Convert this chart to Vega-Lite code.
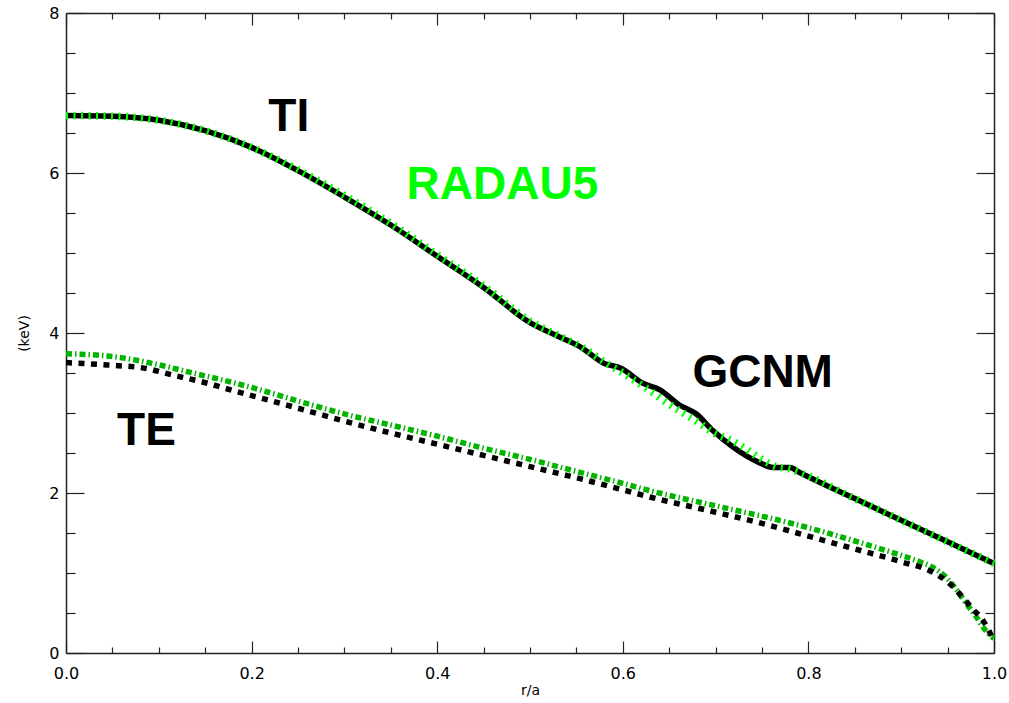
{
  "$schema": "https://vega.github.io/schema/vega-lite/v6.json",
  "width": 928,
  "height": 640,
  "autosize": {"type": "none"},
  "padding": {"left": 66, "top": 13, "right": 15, "bottom": 50},
  "background": "white",
  "config": {
    "view": {"stroke": null},
    "font": "Liberation Sans",
    "axis": {"grid": false, "domainColor": "#222", "domainWidth": 1.5, "tickColor": "#222", "tickWidth": 1.2, "labelColor": "black", "labelFont": "DejaVu Sans", "labelFontSize": 16, "titleFont": "DejaVu Sans", "titleFontWeight": "normal", "titleFontSize": 14, "titleColor": "black"}
  },
  "datasets": {
    "profiles": [
      {"series": "TI GCNM", "r": 0.0, "T": 6.72},
      {"series": "TI GCNM", "r": 0.05, "T": 6.71},
      {"series": "TI GCNM", "r": 0.1, "T": 6.66},
      {"series": "TI GCNM", "r": 0.15, "T": 6.53},
      {"series": "TI GCNM", "r": 0.2, "T": 6.32},
      {"series": "TI GCNM", "r": 0.25, "T": 6.03},
      {"series": "TI GCNM", "r": 0.3, "T": 5.70},
      {"series": "TI GCNM", "r": 0.35, "T": 5.35},
      {"series": "TI GCNM", "r": 0.4, "T": 4.96},
      {"series": "TI GCNM", "r": 0.45, "T": 4.57},
      {"series": "TI GCNM", "r": 0.5, "T": 4.13},
      {"series": "TI GCNM", "r": 0.53, "T": 3.96},
      {"series": "TI GCNM", "r": 0.555, "T": 3.82},
      {"series": "TI GCNM", "r": 0.58, "T": 3.62},
      {"series": "TI GCNM", "r": 0.598, "T": 3.56},
      {"series": "TI GCNM", "r": 0.622, "T": 3.37},
      {"series": "TI GCNM", "r": 0.64, "T": 3.29},
      {"series": "TI GCNM", "r": 0.661, "T": 3.10},
      {"series": "TI GCNM", "r": 0.679, "T": 2.99},
      {"series": "TI GCNM", "r": 0.697, "T": 2.78},
      {"series": "TI GCNM", "r": 0.718, "T": 2.58},
      {"series": "TI GCNM", "r": 0.747, "T": 2.38},
      {"series": "TI GCNM", "r": 0.762, "T": 2.32},
      {"series": "TI GCNM", "r": 0.78, "T": 2.32},
      {"series": "TI GCNM", "r": 0.79, "T": 2.26},
      {"series": "TI GCNM", "r": 0.85, "T": 1.93},
      {"series": "TI GCNM", "r": 0.9, "T": 1.66},
      {"series": "TI GCNM", "r": 0.95, "T": 1.39},
      {"series": "TI GCNM", "r": 1.0, "T": 1.12},

      {"series": "TI RADAU5", "r": 0.0, "T": 6.72},
      {"series": "TI RADAU5", "r": 0.05, "T": 6.71},
      {"series": "TI RADAU5", "r": 0.1, "T": 6.66},
      {"series": "TI RADAU5", "r": 0.15, "T": 6.53},
      {"series": "TI RADAU5", "r": 0.2, "T": 6.32},
      {"series": "TI RADAU5", "r": 0.25, "T": 6.04},
      {"series": "TI RADAU5", "r": 0.3, "T": 5.72},
      {"series": "TI RADAU5", "r": 0.35, "T": 5.37},
      {"series": "TI RADAU5", "r": 0.4, "T": 4.98},
      {"series": "TI RADAU5", "r": 0.45, "T": 4.59},
      {"series": "TI RADAU5", "r": 0.5, "T": 4.15},
      {"series": "TI RADAU5", "r": 0.53, "T": 3.97},
      {"series": "TI RADAU5", "r": 0.555, "T": 3.83},
      {"series": "TI RADAU5", "r": 0.58, "T": 3.64},
      {"series": "TI RADAU5", "r": 0.6, "T": 3.50},
      {"series": "TI RADAU5", "r": 0.629, "T": 3.28},
      {"series": "TI RADAU5", "r": 0.65, "T": 3.11},
      {"series": "TI RADAU5", "r": 0.679, "T": 2.90},
      {"series": "TI RADAU5", "r": 0.697, "T": 2.76},
      {"series": "TI RADAU5", "r": 0.718, "T": 2.65},
      {"series": "TI RADAU5", "r": 0.733, "T": 2.55},
      {"series": "TI RADAU5", "r": 0.747, "T": 2.44},
      {"series": "TI RADAU5", "r": 0.765, "T": 2.33},
      {"series": "TI RADAU5", "r": 0.78, "T": 2.30},
      {"series": "TI RADAU5", "r": 0.79, "T": 2.26},
      {"series": "TI RADAU5", "r": 0.85, "T": 1.93},
      {"series": "TI RADAU5", "r": 0.9, "T": 1.66},
      {"series": "TI RADAU5", "r": 0.95, "T": 1.39},
      {"series": "TI RADAU5", "r": 1.0, "T": 1.12},

      {"series": "TE GCNM", "r": 0.0, "T": 3.63},
      {"series": "TE GCNM", "r": 0.045, "T": 3.60},
      {"series": "TE GCNM", "r": 0.087, "T": 3.555},
      {"series": "TE GCNM", "r": 0.113, "T": 3.48},
      {"series": "TE GCNM", "r": 0.153, "T": 3.37},
      {"series": "TE GCNM", "r": 0.18, "T": 3.28},
      {"series": "TE GCNM", "r": 0.209, "T": 3.19},
      {"series": "TE GCNM", "r": 0.25, "T": 3.06},
      {"series": "TE GCNM", "r": 0.306, "T": 2.88},
      {"series": "TE GCNM", "r": 0.35, "T": 2.75},
      {"series": "TE GCNM", "r": 0.4, "T": 2.61},
      {"series": "TE GCNM", "r": 0.45, "T": 2.47},
      {"series": "TE GCNM", "r": 0.5, "T": 2.33},
      {"series": "TE GCNM", "r": 0.55, "T": 2.19},
      {"series": "TE GCNM", "r": 0.6, "T": 2.04},
      {"series": "TE GCNM", "r": 0.629, "T": 1.95},
      {"series": "TE GCNM", "r": 0.7, "T": 1.76},
      {"series": "TE GCNM", "r": 0.75, "T": 1.62},
      {"series": "TE GCNM", "r": 0.797, "T": 1.47},
      {"series": "TE GCNM", "r": 0.85, "T": 1.30},
      {"series": "TE GCNM", "r": 0.9, "T": 1.14},
      {"series": "TE GCNM", "r": 0.934, "T": 1.01},
      {"series": "TE GCNM", "r": 0.952, "T": 0.87},
      {"series": "TE GCNM", "r": 0.966, "T": 0.70},
      {"series": "TE GCNM", "r": 0.977, "T": 0.55},
      {"series": "TE GCNM", "r": 0.988, "T": 0.41},
      {"series": "TE GCNM", "r": 1.0, "T": 0.15},

      {"series": "TE RADAU5", "r": 0.0, "T": 3.74},
      {"series": "TE RADAU5", "r": 0.047, "T": 3.71},
      {"series": "TE RADAU5", "r": 0.101, "T": 3.60},
      {"series": "TE RADAU5", "r": 0.133, "T": 3.51},
      {"series": "TE RADAU5", "r": 0.18, "T": 3.38},
      {"series": "TE RADAU5", "r": 0.209, "T": 3.29},
      {"series": "TE RADAU5", "r": 0.25, "T": 3.15},
      {"series": "TE RADAU5", "r": 0.306, "T": 2.97},
      {"series": "TE RADAU5", "r": 0.35, "T": 2.85},
      {"series": "TE RADAU5", "r": 0.4, "T": 2.71},
      {"series": "TE RADAU5", "r": 0.45, "T": 2.56},
      {"series": "TE RADAU5", "r": 0.5, "T": 2.42},
      {"series": "TE RADAU5", "r": 0.55, "T": 2.27},
      {"series": "TE RADAU5", "r": 0.6, "T": 2.12},
      {"series": "TE RADAU5", "r": 0.629, "T": 2.03},
      {"series": "TE RADAU5", "r": 0.7, "T": 1.84},
      {"series": "TE RADAU5", "r": 0.75, "T": 1.71},
      {"series": "TE RADAU5", "r": 0.797, "T": 1.575},
      {"series": "TE RADAU5", "r": 0.85, "T": 1.40},
      {"series": "TE RADAU5", "r": 0.9, "T": 1.22},
      {"series": "TE RADAU5", "r": 0.92, "T": 1.14},
      {"series": "TE RADAU5", "r": 0.934, "T": 1.07},
      {"series": "TE RADAU5", "r": 0.948, "T": 0.95},
      {"series": "TE RADAU5", "r": 0.959, "T": 0.80},
      {"series": "TE RADAU5", "r": 0.97, "T": 0.62},
      {"series": "TE RADAU5", "r": 0.981, "T": 0.45},
      {"series": "TE RADAU5", "r": 0.991, "T": 0.28},
      {"series": "TE RADAU5", "r": 1.0, "T": 0.18}
    ],
    "labelsBlack": [
      {"label": "TI", "r": 0.218, "T": 6.525},
      {"label": "TE", "r": 0.055, "T": 2.596},
      {"label": "GCNM", "r": 0.675, "T": 3.325}
    ],
    "labelsGreen": [
      {"label": "RADAU5", "r": 0.367, "T": 5.68}
    ]
  },
  "resolve": {"axis": {"x": "independent", "y": "independent"}},
  "layer": [
    {
      "data": {"name": "profiles"},
      "transform": [{"filter": "datum.series === 'TE RADAU5'"}],
      "mark": {"type": "line", "color": "#00b400", "strokeWidth": 5.5, "strokeDash": [6, 3, 1.5, 3], "strokeCap": "butt", "interpolate": "monotone"},
      "encoding": {
        "x": {"field": "r", "type": "quantitative", "scale": {"domain": [0, 1], "nice": false, "zero": false},
              "axis": {"orient": "bottom", "values": [0, 0.2, 0.4, 0.6, 0.8, 1.0], "format": ".1f", "ticks": false, "domain": false, "labelPadding": 12, "title": "r/a", "titleY": 30, "titleBaseline": "top", "labelFlush": false}},
        "y": {"field": "T", "type": "quantitative", "scale": {"domain": [0, 8], "nice": false, "zero": false},
              "axis": {"orient": "left", "values": [0, 2, 4, 6, 8], "format": "d", "ticks": false, "domain": false, "labelPadding": 7, "title": "(keV)", "titleX": -35, "titleY": 320, "titleBaseline": "bottom", "titleAngle": -90, "titleAlign": "center", "labelFlush": false}}
      }
    },
    {
      "data": {"name": "profiles"},
      "transform": [{"filter": "datum.series === 'TE GCNM'"}],
      "mark": {"type": "line", "color": "black", "strokeWidth": 5.5, "strokeDash": [6, 6.5], "strokeCap": "butt", "interpolate": "monotone"},
      "encoding": {
        "x": {"field": "r", "type": "quantitative", "scale": {"domain": [0, 1], "nice": false, "zero": false},
              "axis": {"orient": "bottom", "values": [0, 0.2, 0.4, 0.6, 0.8, 1.0], "labels": false, "tickSize": -12, "domain": true, "title": null}},
        "y": {"field": "T", "type": "quantitative", "scale": {"domain": [0, 8], "nice": false, "zero": false},
              "axis": {"orient": "left", "values": [0, 2, 4, 6, 8], "labels": false, "tickSize": -18, "domain": true, "title": null}}
      }
    },
    {
      "data": {"name": "profiles"},
      "transform": [{"filter": "datum.series === 'TI GCNM'"}],
      "mark": {"type": "line", "color": "black", "strokeWidth": 5.5, "interpolate": "monotone"},
      "encoding": {
        "x": {"field": "r", "type": "quantitative", "scale": {"domain": [0, 1], "nice": false, "zero": false},
              "axis": {"orient": "bottom", "values": [0.05, 0.1, 0.15, 0.25, 0.3, 0.35, 0.45, 0.5, 0.55, 0.65, 0.7, 0.75, 0.85, 0.9, 0.95], "labels": false, "tickSize": -6, "domain": false, "title": null}},
        "y": {"field": "T", "type": "quantitative", "scale": {"domain": [0, 8], "nice": false, "zero": false},
              "axis": {"orient": "left", "values": [0.5, 1, 1.5, 2.5, 3, 3.5, 4.5, 5, 5.5, 6.5, 7, 7.5], "labels": false, "tickSize": -9, "domain": false, "title": null}}
      }
    },
    {
      "data": {"name": "profiles"},
      "transform": [{"filter": "datum.series === 'TI RADAU5'"}],
      "mark": {"type": "line", "color": "#00ff00", "strokeWidth": 7.5, "strokeDash": [2, 5.5], "strokeCap": "butt", "interpolate": "monotone"},
      "encoding": {
        "x": {"field": "r", "type": "quantitative", "scale": {"domain": [0, 1], "nice": false, "zero": false},
              "axis": {"orient": "top", "values": [0, 0.2, 0.4, 0.6, 0.8, 1.0], "labels": false, "tickSize": -12, "domain": true, "title": null}},
        "y": {"field": "T", "type": "quantitative", "scale": {"domain": [0, 8], "nice": false, "zero": false},
              "axis": {"orient": "right", "values": [0, 2, 4, 6, 8], "labels": false, "tickSize": -18, "domain": true, "title": null}}
      }
    },
    {
      "data": {"name": "labelsBlack"},
      "mark": {"type": "text", "color": "black", "font": "Liberation Sans", "fontWeight": "bold", "fontSize": 46, "align": "left", "baseline": "alphabetic"},
      "encoding": {
        "text": {"field": "label"},
        "x": {"field": "r", "type": "quantitative", "scale": {"domain": [0, 1], "nice": false, "zero": false},
              "axis": {"orient": "top", "values": [0.05, 0.1, 0.15, 0.25, 0.3, 0.35, 0.45, 0.5, 0.55, 0.65, 0.7, 0.75, 0.85, 0.9, 0.95], "labels": false, "tickSize": -6, "domain": false, "title": null}},
        "y": {"field": "T", "type": "quantitative", "scale": {"domain": [0, 8], "nice": false, "zero": false},
              "axis": {"orient": "right", "values": [0.5, 1, 1.5, 2.5, 3, 3.5, 4.5, 5, 5.5, 6.5, 7, 7.5], "labels": false, "tickSize": -9, "domain": false, "title": null}}
      }
    },
    {
      "data": {"name": "labelsGreen"},
      "mark": {"type": "text", "color": "#00ff00", "font": "Liberation Sans", "fontWeight": "bold", "fontSize": 46, "align": "left", "baseline": "alphabetic"},
      "encoding": {
        "text": {"field": "label"},
        "x": {"field": "r", "type": "quantitative", "scale": {"domain": [0, 1], "nice": false, "zero": false}, "axis": null},
        "y": {"field": "T", "type": "quantitative", "scale": {"domain": [0, 8], "nice": false, "zero": false}, "axis": null}
      }
    }
  ]
}
